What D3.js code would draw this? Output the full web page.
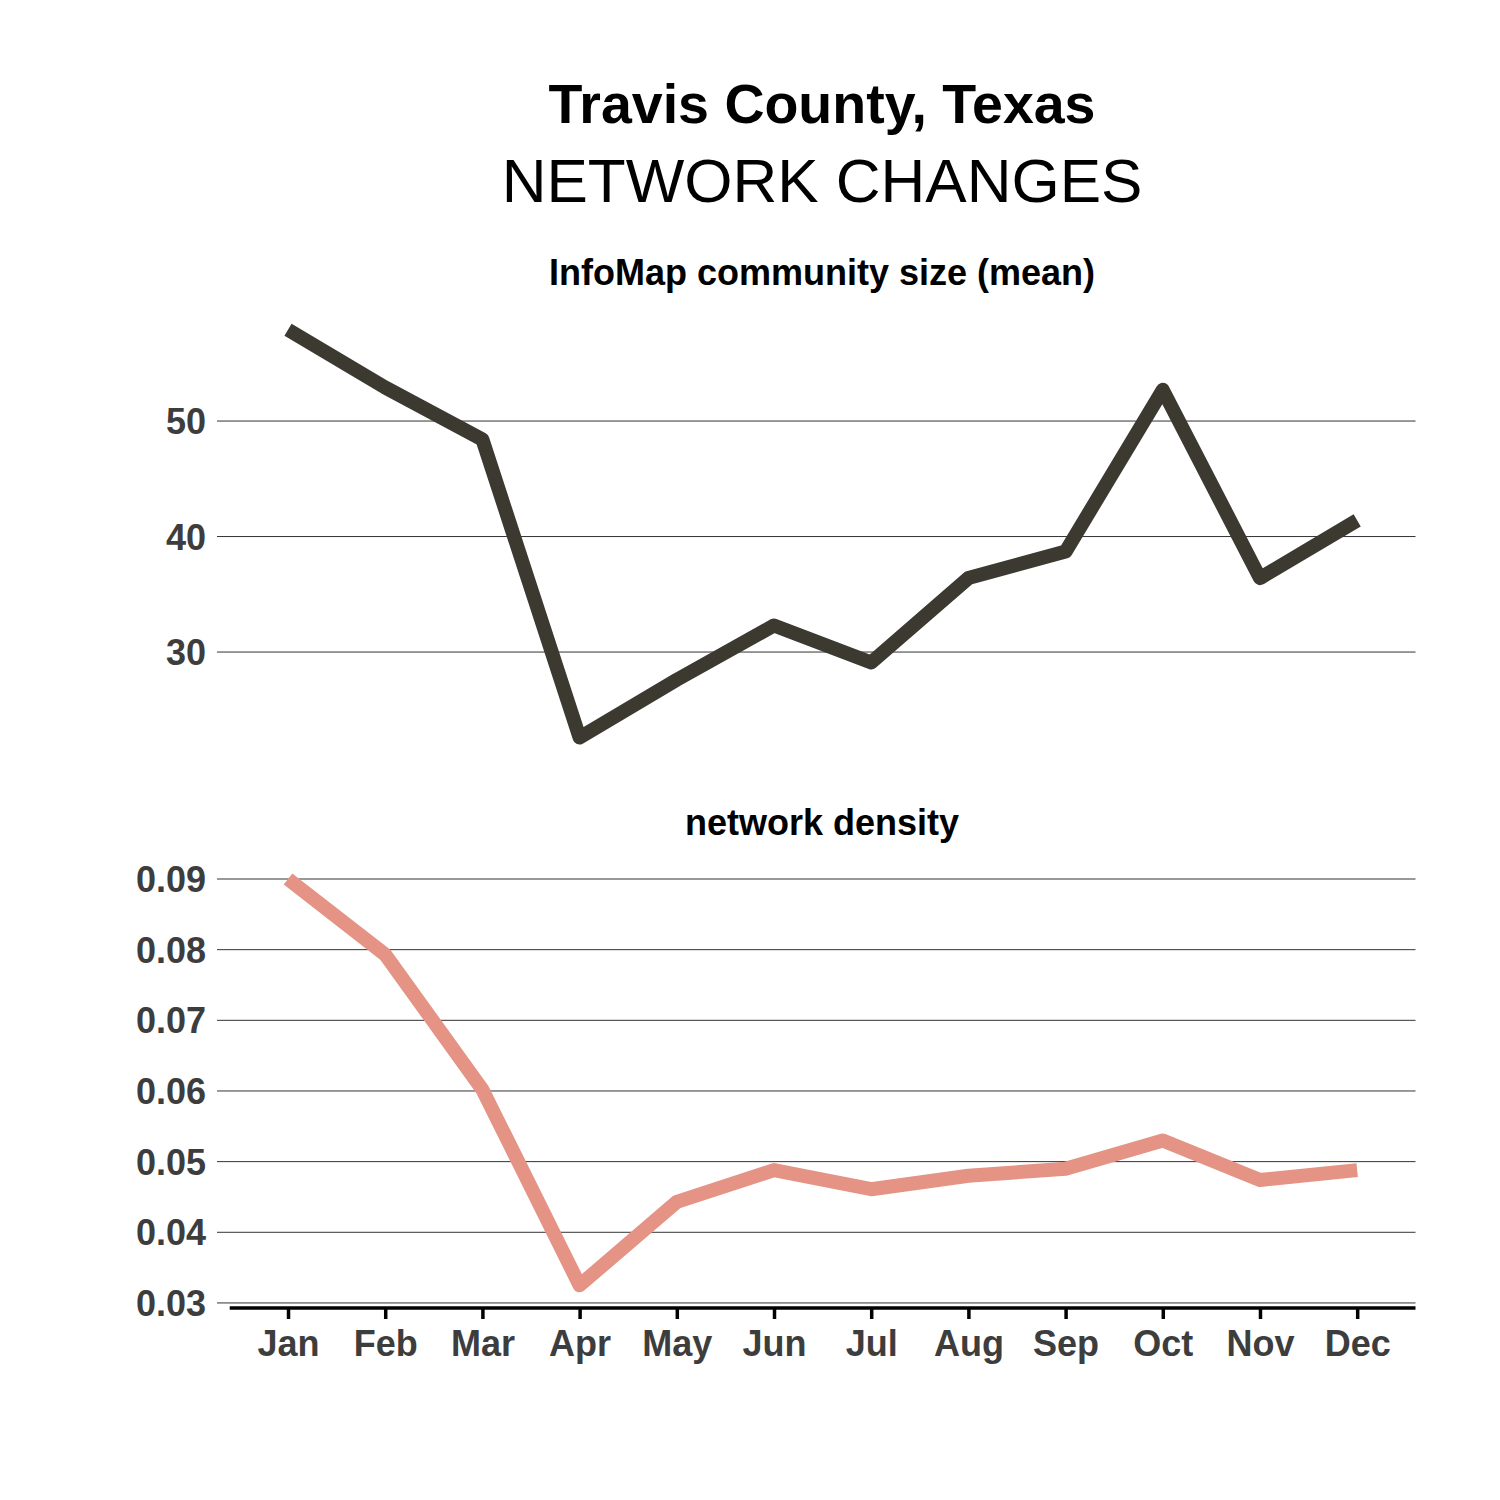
<!DOCTYPE html>
<html>
<head>
<meta charset="utf-8">
<script src="https://cdn.jsdelivr.net/npm/d3@7"></script>
<style>
  body { margin: 0; background: #fff; }
  text { font-family: "Liberation Sans", Arial, sans-serif; }
</style>
</head>
<body>
<div id="chart"></div>
<script>
// Data
var months = ["Jan", "Feb", "Mar", "Apr", "May", "Jun", "Jul", "Aug", "Sep", "Oct", "Nov", "Dec"];
var communitySize = [57.9, 52.9, 48.4, 22.6, 27.6, 32.3, 29.1, 36.4, 38.7, 52.7, 36.4, 41.4];
var networkDensity = [0.0900, 0.0793, 0.0602, 0.0325, 0.0443, 0.0488, 0.0461, 0.0480, 0.0490, 0.0530, 0.0474, 0.0488];

var width = 1500, height = 1500;

var svg = d3.select("#chart").append("svg")
    .attr("width", width)
    .attr("height", height);

// Title block
svg.append("text")
    .attr("x", 822).attr("y", 123)
    .attr("text-anchor", "middle")
    .style("font-size", "55.5px")
    .style("font-weight", "bold")
    .text("Travis County, Texas");

svg.append("text")
    .attr("x", 822).attr("y", 202)
    .attr("text-anchor", "middle")
    .style("font-size", "62px")
    .text("NETWORK CHANGES");

// Shared x scale (discrete months)
var x = d3.scalePoint()
    .domain(months)
    .range([229.7, 1415.5])
    .padding(0.6);

var gridLeft = 217, gridRight = 1415.5;

// Draw one facet panel
function drawPanel(values, opts) {
    var ext = d3.extent(values);
    var pad = (ext[1] - ext[0]) * 0.05;
    var y = d3.scaleLinear()
        .domain([ext[0] - pad, ext[1] + pad])
        .range([opts.bottom, opts.top]);

    var g = svg.append("g");

    // strip title
    g.append("text")
        .attr("x", 822).attr("y", opts.top - 24)
        .attr("text-anchor", "middle")
        .style("font-size", "36px")
        .style("font-weight", "bold")
        .text(opts.title);

    var ticks = y.ticks(opts.nticks);

    // gridlines (also serve as the little y ticks)
    g.selectAll("line.grid")
        .data(ticks)
        .enter().append("line")
        .classed("grid", true)
        .attr("x1", gridLeft).attr("x2", gridRight)
        .attr("y1", function(d) { return y(d); })
        .attr("y2", function(d) { return y(d); })
        .attr("stroke", "#333")
        .attr("stroke-width", 1);

    // y tick labels
    g.selectAll("text.ylab")
        .data(ticks)
        .enter().append("text")
        .classed("ylab", true)
        .attr("x", 206)
        .attr("y", function(d) { return y(d) + 13; })
        .attr("text-anchor", "end")
        .style("font-size", "36px")
        .style("font-weight", "bold")
        .attr("fill", "#3d3d3d")
        .text(function(d) { return d3.format(opts.fmt)(d); });

    var line = d3.line()
        .x(function(d, i) { return x(months[i]); })
        .y(function(d) { return y(d); });

    g.append("path")
        .datum(values)
        .attr("d", line)
        .attr("fill", "none")
        .attr("stroke", opts.color)
        .attr("stroke-width", 14)
        .attr("stroke-linejoin", "round")
        .attr("stroke-linecap", "butt");

    return y;
}

drawPanel(communitySize, {
    title: "InfoMap community size (mean)",
    top: 309.4, bottom: 757.9,
    nticks: 4, fmt: "d",
    color: "#3b3930"
});

drawPanel(networkDensity, {
    title: "network density",
    top: 858.7, bottom: 1305.6,
    nticks: 7, fmt: ".2f",
    color: "#e49385"
});

// Bottom x axis
var xAxis = d3.axisBottom(x)
    .tickSize(11)
    .tickSizeOuter(0)
    .tickPadding(11);

var axisG = svg.append("g")
    .attr("transform", "translate(0,1308)")
    .call(xAxis);

axisG.select(".domain")
    .attr("stroke", "#000")
    .attr("stroke-width", 3.5)
    .attr("d", "M" + x.range()[0] + ",0H" + x.range()[1]);

axisG.selectAll(".tick line")
    .attr("stroke", "#000")
    .attr("stroke-width", 3.5);

axisG.selectAll(".tick text")
    .style("font-size", "36px")
    .style("font-weight", "bold")
    .style("font-family", "'Liberation Sans', Arial, sans-serif")
    .attr("fill", "#3d3d3d")
    .attr("dy", "0.71em");
</script>
</body>
</html>
